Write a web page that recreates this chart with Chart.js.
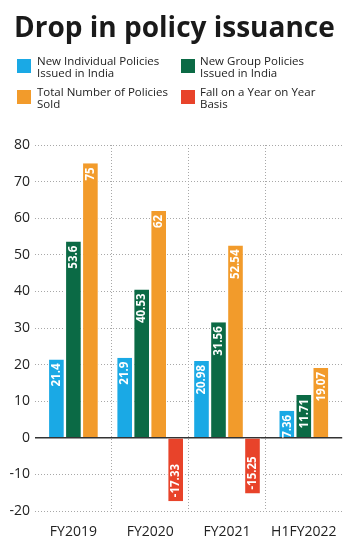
<!DOCTYPE html>
<html><head><meta charset="utf-8">
<script src="https://cdn.jsdelivr.net/npm/chart.js@4"></script>
<style>
html,body{margin:0;padding:0;background:#fff;}
#wrap{position:relative;width:350px;height:552px;overflow:hidden;}
#title{position:absolute;left:14px;top:7px;font:700 28px/38px "Open Sans";color:#1a1a1a;white-space:nowrap;}
.leg{position:absolute;font:11.5px/12px "Open Sans";color:#222;white-space:nowrap;}
.sw{position:absolute;width:14px;height:14px;}
canvas{position:absolute;left:0;top:0;}
</style></head>
<body>
<div id="wrap">
<canvas id="c" width="350" height="552"></canvas>
<div id="title">Drop in policy issuance</div>
<div class="sw" style="left:17px;top:59px;background:#1aa9e5"></div>
<div class="leg" style="left:37px;top:55px">New Individual Policies<br>Issued in India</div>
<div class="sw" style="left:181px;top:59px;background:#0b6a45"></div>
<div class="leg" style="left:200px;top:55px">New Group Policies<br>Issued in India</div>
<div class="sw" style="left:17px;top:90px;background:#f29b2b"></div>
<div class="leg" style="left:37px;top:86px">Total Number of Policies<br>Sold</div>
<div class="sw" style="left:181px;top:90px;background:#e8432a"></div>
<div class="leg" style="left:200px;top:86px">Fall on a Year on Year<br>Basis</div>
</div>
<script>
const categories = ['FY2019', 'FY2020', 'FY2021', 'H1FY2022'];
const individualPolicies = [21.4, 21.9, 20.98, 7.36];
const groupPolicies = [53.6, 40.53, 31.56, 11.71];
const totalPolicies = [75, 62, 52.54, 19.07];
const yoyFall = [null, -17.33, -15.25, null];
const yTicks = [80, 70, 60, 50, 40, 30, 20, 10, 0, -10, -20];

const seriesNames = ['New Individual Policies Issued in India', 'New Group Policies Issued in India', 'Total Number of Policies Sold', 'Fall on a Year on Year Basis'];
const seriesColors = ['#1aa9e5', '#0b6a45', '#f29b2b', '#e8432a'];
const seriesData = [individualPolicies, groupPolicies, totalPolicies, yoyFall];

const FONT = '"Open Sans", sans-serif';

const barLabels = {
  id: 'barLabels',
  afterDatasetsDraw(chart) {
    const ctx = chart.ctx;
    ctx.save();
    ctx.font = '700 11.5px ' + FONT;
    ctx.fillStyle = '#ffffff';
    ctx.textBaseline = 'middle';
    chart.data.datasets.forEach((ds, di) => {
      const meta = chart.getDatasetMeta(di);
      meta.data.forEach((bar, i) => {
        const v = ds.data[i];
        if (v === null || v === undefined) return;
        const neg = v < 0;
        ctx.save();
        ctx.translate(bar.x, neg ? bar.y - 4 : bar.y + 4);
        ctx.rotate(-Math.PI / 2);
        ctx.textAlign = neg ? 'left' : 'right';
        ctx.fillText(String(v), 0, 0.5);
        ctx.restore();
      });
    });
    ctx.restore();
  }
};

new Chart(document.getElementById('c'), {
  type: 'bar',
  data: {
    labels: categories,
    datasets: seriesData.map((d, i) => ({
      label: seriesNames[i],
      data: d,
      backgroundColor: seriesColors[i],
      borderColor: '#ffffff',
      borderWidth: {left: 1.2, right: 1.2, top: 0, bottom: 0},
      borderSkipped: false,
      inflateAmount: 0,
      barThickness: 17,
      skipNull: true
    }))
  },
  options: {
    responsive: false,
    animation: false,
    devicePixelRatio: 1,
    layout: {padding: {top: 145, right: 4, bottom: 13, left: 0}},
    plugins: {legend: {display: false}, title: {display: false}, tooltip: {enabled: false}},
    scales: {
      x: {
        offset: true,
        afterFit: s => { s.height = 28; },
        grid: {
          offset: true,
          drawTicks: false,
          color: c => (c.index === undefined || c.index === 0) ? 'rgba(0,0,0,0)' : '#a8a8a8',
          lineWidth: 1
        },
        border: {display: false, dash: [1, 2]},
        ticks: {color: '#222', font: {family: FONT, size: 14}, padding: 13}
      },
      y: {
        min: -20, max: 80,
        afterBuildTicks: s => { s.ticks = yTicks.map(v => ({value: v})); },
        afterFit: s => { s.width = 35; },
        grid: {
          drawTicks: false,
          color: c => (c.tick && c.tick.value === 0) ? '#333' : '#a8a8a8',
          lineWidth: c => (c.tick && c.tick.value === 0) ? 1.6 : 1
        },
        border: {display: false, dash: c => (c.tick && c.tick.value === 0) ? [] : [1, 2]},
        ticks: {color: '#222', font: {family: FONT, size: 14}, padding: 5}
      }
    }
  },
  plugins: [barLabels]
});
</script>
</body></html>
